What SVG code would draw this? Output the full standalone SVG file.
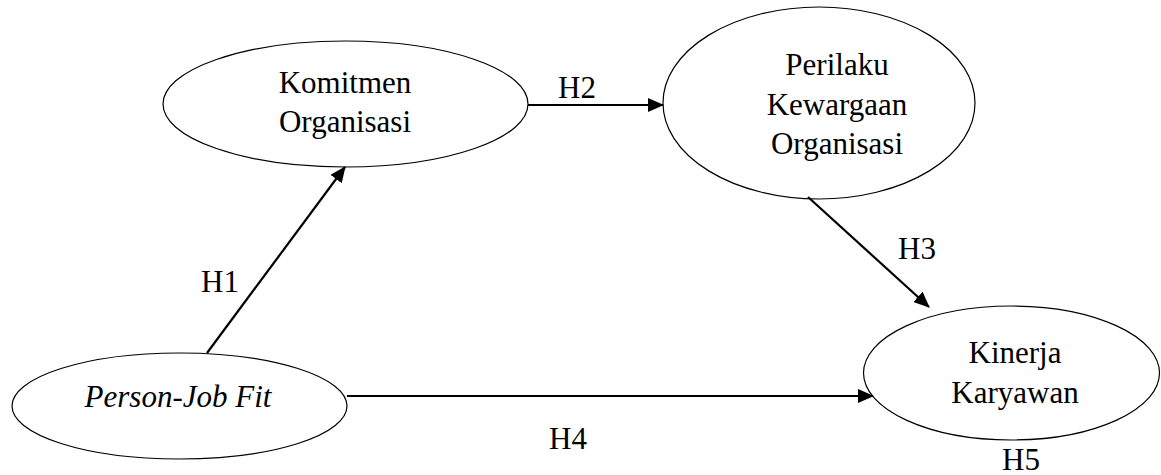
<svg xmlns="http://www.w3.org/2000/svg" width="1161" height="475" viewBox="0 0 1161 475">
<style>
.node ellipse{fill:#fff;stroke:#000;stroke-width:1.2}
text{font-family:'Liberation Serif','Times New Roman','DejaVu Serif',serif;font-size:31px;fill:#000}
.c line{stroke:#000;stroke-width:2.2}
.m{text-anchor:middle}
</style>
<defs>
<marker id="ah" markerUnits="userSpaceOnUse" markerWidth="16" markerHeight="14" refX="15" refY="7" orient="auto">
<path d="M0,0 L16,7 L0,14 Z" fill="#000"/>
</marker>
</defs>
<g id="n-komitmen" class="node">
<ellipse cx="345.5" cy="104" rx="182.5" ry="63"/>
<text class="m" x="345" y="93">Komitmen</text>
<text class="m" x="345" y="132">Organisasi</text>
</g>
<g id="n-perilaku" class="node">
<ellipse cx="819" cy="103" rx="156" ry="96"/>
<text class="m" x="837" y="75">Perilaku</text>
<text class="m" x="837" y="115">Kewargaan</text>
<text class="m" x="837" y="154">Organisasi</text>
</g>
<g id="n-pjf" class="node">
<ellipse cx="179.5" cy="406" rx="167.5" ry="53"/>
<text class="m" x="178" y="407" font-style="italic">Person-Job Fit</text>
</g>
<g id="n-kinerja" class="node">
<ellipse cx="1011.5" cy="373" rx="148" ry="67"/>
<text class="m" x="1015" y="363">Kinerja</text>
<text class="m" x="1015" y="403">Karyawan</text>
</g>
<g id="connectors" class="c">
<line x1="207" y1="353" x2="345" y2="167" marker-end="url(#ah)"/>
<line x1="528" y1="105" x2="663" y2="105" marker-end="url(#ah)"/>
<line x1="808" y1="197" x2="929" y2="307" marker-end="url(#ah)"/>
<line x1="347" y1="396" x2="873" y2="396" marker-end="url(#ah)"/>
</g>
<g id="labels">
<text x="201" y="292">H1</text>
<text x="558" y="98">H2</text>
<text x="898" y="259">H3</text>
<text x="549" y="449">H4</text>
<text x="1002" y="470">H5</text>
</g>
</svg>
